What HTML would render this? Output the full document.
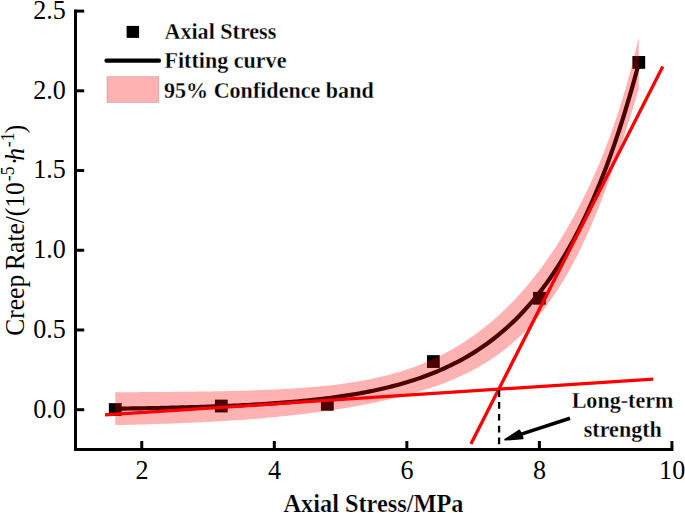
<!DOCTYPE html>
<html><head><meta charset="utf-8"><style>
html,body{margin:0;padding:0;background:#fff;}
svg{display:block;}
</style></head><body>
<svg width="685" height="513" viewBox="0 0 685 513" font-family="'Liberation Serif', serif">
<g fill="#000"><rect x="108.86" y="403.14" width="12.8" height="12.8"/><rect x="214.89" y="399.63" width="12.8" height="12.8"/><rect x="320.93" y="397.88" width="12.8" height="12.8"/><rect x="426.96" y="355.15" width="12.8" height="12.8"/><rect x="532.99" y="291.85" width="12.8" height="12.8"/><rect x="632.39" y="56.04" width="12.8" height="12.8"/></g>
<path d="M115.26,408.67 L118.55,408.63 L121.85,408.58 L125.14,408.54 L128.43,408.49 L131.73,408.44 L135.02,408.39 L138.31,408.34 L141.60,408.29 L144.90,408.23 L148.19,408.18 L151.48,408.12 L154.77,408.05 L158.07,407.99 L161.36,407.92 L164.65,407.85 L167.94,407.78 L171.24,407.71 L174.53,407.63 L177.82,407.55 L181.12,407.47 L184.41,407.38 L187.70,407.29 L190.99,407.20 L194.29,407.10 L197.58,407.01 L200.87,406.90 L204.16,406.80 L207.46,406.69 L210.75,406.57 L214.04,406.45 L217.33,406.33 L220.63,406.20 L223.92,406.07 L227.21,405.93 L230.51,405.79 L233.80,405.64 L237.09,405.49 L240.38,405.33 L243.68,405.17 L246.97,405.00 L250.26,404.82 L253.55,404.64 L256.85,404.45 L260.14,404.25 L263.43,404.05 L266.72,403.84 L270.02,403.62 L273.31,403.40 L276.60,403.16 L279.90,402.92 L283.19,402.66 L286.48,402.40 L289.77,402.13 L293.07,401.85 L296.36,401.56 L299.65,401.26 L302.94,400.94 L306.24,400.62 L309.53,400.28 L312.82,399.93 L316.11,399.57 L319.41,399.20 L322.70,398.81 L325.99,398.41 L329.28,397.99 L332.58,397.56 L335.87,397.11 L339.16,396.64 L342.46,396.16 L345.75,395.66 L349.04,395.15 L352.33,394.61 L355.63,394.05 L358.92,393.48 L362.21,392.88 L365.50,392.26 L368.80,391.62 L372.09,390.95 L375.38,390.26 L378.67,389.54 L381.97,388.80 L385.26,388.03 L388.55,387.24 L391.85,386.41 L395.14,385.55 L398.43,384.67 L401.72,383.75 L405.02,382.79 L408.31,381.80 L411.60,380.78 L414.89,379.72 L418.19,378.62 L421.48,377.48 L424.77,376.29 L428.06,375.07 L431.36,373.79 L434.65,372.48 L437.94,371.11 L441.24,369.69 L444.53,368.23 L447.82,366.70 L451.11,365.13 L454.41,363.49 L457.70,361.80 L460.99,360.04 L464.28,358.22 L467.58,356.33 L470.87,354.38 L474.16,352.35 L477.45,350.24 L480.75,348.06 L484.04,345.81 L487.33,343.46 L490.63,341.04 L493.92,338.52 L497.21,335.91 L500.50,333.21 L503.80,330.40 L507.09,327.50 L510.38,324.49 L513.67,321.37 L516.97,318.13 L520.26,314.77 L523.55,311.30 L526.84,307.69 L530.14,303.96 L533.43,300.08 L536.72,296.07 L540.02,291.91 L543.31,287.59 L546.60,283.12 L549.89,278.49 L553.19,273.68 L556.48,268.70 L559.77,263.54 L563.06,258.18 L566.36,252.64 L569.65,246.89 L572.94,240.93 L576.23,234.75 L579.53,228.34 L582.82,221.70 L586.11,214.82 L589.41,207.68 L592.70,200.29 L595.99,192.62 L599.28,184.68 L602.58,176.44 L605.87,167.90 L609.16,159.05 L612.45,149.87 L615.75,140.36 L619.04,130.50 L622.33,120.29 L625.62,109.69 L628.92,98.71 L632.21,87.33 L635.50,75.53 L638.79,63.30" fill="none" stroke="#000" stroke-width="4.2" stroke-linejoin="round"/>
<g stroke="#ff0000" stroke-width="3.3" fill="none">
<line x1="105" y1="414.9" x2="653.2" y2="379.1"/>
<line x1="470.9" y1="444.0" x2="662.8" y2="66.4"/>
</g>
<path d="M115.26,392.22 L118.55,392.21 L121.85,392.20 L125.14,392.19 L128.43,392.17 L131.73,392.16 L135.02,392.14 L138.31,392.13 L141.60,392.11 L144.90,392.09 L148.19,392.07 L151.48,392.05 L154.77,392.03 L158.07,392.01 L161.36,391.98 L164.65,391.96 L167.94,391.93 L171.24,391.90 L174.53,391.87 L177.82,391.84 L181.12,391.80 L184.41,391.77 L187.70,391.73 L190.99,391.69 L194.29,391.65 L197.58,391.60 L200.87,391.56 L204.16,391.51 L207.46,391.45 L210.75,391.40 L214.04,391.34 L217.33,391.28 L220.63,391.21 L223.92,391.15 L227.21,391.07 L230.51,391.00 L233.80,390.92 L237.09,390.83 L240.38,390.74 L243.68,390.65 L246.97,390.55 L250.26,390.45 L253.55,390.34 L256.85,390.22 L260.14,390.10 L263.43,389.97 L266.72,389.84 L270.02,389.70 L273.31,389.55 L276.60,389.39 L279.90,389.22 L283.19,389.05 L286.48,388.87 L289.77,388.67 L293.07,388.47 L296.36,388.26 L299.65,388.03 L302.94,387.80 L306.24,387.55 L309.53,387.28 L312.82,387.01 L316.11,386.72 L319.41,386.41 L322.70,386.09 L325.99,385.76 L329.28,385.40 L332.58,385.03 L335.87,384.64 L339.16,384.23 L342.46,383.80 L345.75,383.34 L349.04,382.86 L352.33,382.36 L355.63,381.84 L358.92,381.28 L362.21,380.70 L365.50,380.09 L368.80,379.46 L372.09,378.79 L375.38,378.08 L378.67,377.35 L381.97,376.58 L385.26,375.77 L388.55,374.93 L391.85,374.04 L395.14,373.12 L398.43,372.16 L401.72,371.15 L405.02,370.09 L408.31,369.00 L411.60,367.85 L414.89,366.66 L418.19,365.41 L421.48,364.12 L424.77,362.77 L428.06,361.36 L431.36,359.91 L434.65,358.39 L437.94,356.82 L441.24,355.18 L444.53,353.49 L447.82,351.73 L451.11,349.91 L454.41,348.02 L457.70,346.06 L460.99,344.03 L464.28,341.94 L467.58,339.77 L470.87,337.52 L474.16,335.20 L477.45,332.81 L480.75,330.33 L484.04,327.77 L487.33,325.12 L490.63,322.39 L493.92,319.58 L497.21,316.67 L500.50,313.66 L503.80,310.57 L507.09,307.37 L510.38,304.08 L513.67,300.68 L516.97,297.17 L520.26,293.56 L523.55,289.84 L526.84,286.00 L530.14,282.04 L533.43,277.96 L536.72,273.76 L540.02,269.43 L543.31,264.97 L546.60,260.36 L549.89,255.62 L553.19,250.74 L556.48,245.70 L559.77,240.51 L563.06,235.16 L566.36,229.64 L569.65,223.95 L572.94,218.08 L576.23,212.02 L579.53,205.76 L582.82,199.30 L586.11,192.62 L589.41,185.71 L592.70,178.55 L595.99,171.14 L599.28,163.44 L602.58,155.45 L605.87,147.12 L609.16,138.44 L612.45,129.36 L615.75,119.86 L619.04,109.87 L622.33,99.37 L625.62,88.30 L628.92,76.61 L632.21,64.26 L635.50,51.21 L638.79,37.43 L638.79,89.17 L635.50,99.85 L632.21,110.40 L628.92,120.81 L625.62,131.09 L622.33,141.20 L619.04,151.14 L615.75,160.87 L612.45,170.38 L609.16,179.66 L605.87,188.68 L602.58,197.43 L599.28,205.91 L595.99,214.11 L592.70,222.02 L589.41,229.66 L586.11,237.02 L582.82,244.11 L579.53,250.92 L576.23,257.48 L572.94,263.77 L569.65,269.83 L566.36,275.63 L563.06,281.21 L559.77,286.56 L556.48,291.70 L553.19,296.62 L549.89,301.35 L546.60,305.88 L543.31,310.22 L540.02,314.38 L536.72,318.38 L533.43,322.20 L530.14,325.87 L526.84,329.39 L523.55,332.76 L520.26,335.99 L516.97,339.08 L513.67,342.05 L510.38,344.90 L507.09,347.63 L503.80,350.24 L500.50,352.75 L497.21,355.16 L493.92,357.46 L490.63,359.68 L487.33,361.80 L484.04,363.84 L480.75,365.80 L477.45,367.68 L474.16,369.49 L470.87,371.23 L467.58,372.90 L464.28,374.50 L460.99,376.05 L457.70,377.54 L454.41,378.97 L451.11,380.35 L447.82,381.68 L444.53,382.97 L441.24,384.21 L437.94,385.40 L434.65,386.56 L431.36,387.68 L428.06,388.77 L424.77,389.82 L421.48,390.83 L418.19,391.82 L414.89,392.78 L411.60,393.71 L408.31,394.61 L405.02,395.49 L401.72,396.35 L398.43,397.18 L395.14,397.99 L391.85,398.78 L388.55,399.55 L385.26,400.30 L381.97,401.03 L378.67,401.74 L375.38,402.44 L372.09,403.11 L368.80,403.78 L365.50,404.42 L362.21,405.05 L358.92,405.67 L355.63,406.27 L352.33,406.85 L349.04,407.43 L345.75,407.98 L342.46,408.53 L339.16,409.06 L335.87,409.58 L332.58,410.08 L329.28,410.58 L325.99,411.06 L322.70,411.53 L319.41,411.98 L316.11,412.43 L312.82,412.86 L309.53,413.28 L306.24,413.69 L302.94,414.09 L299.65,414.48 L296.36,414.86 L293.07,415.23 L289.77,415.59 L286.48,415.94 L283.19,416.28 L279.90,416.61 L276.60,416.93 L273.31,417.24 L270.02,417.55 L266.72,417.84 L263.43,418.13 L260.14,418.41 L256.85,418.68 L253.55,418.94 L250.26,419.20 L246.97,419.45 L243.68,419.69 L240.38,419.92 L237.09,420.15 L233.80,420.37 L230.51,420.58 L227.21,420.79 L223.92,420.99 L220.63,421.19 L217.33,421.38 L214.04,421.56 L210.75,421.74 L207.46,421.92 L204.16,422.08 L200.87,422.25 L197.58,422.41 L194.29,422.56 L190.99,422.71 L187.70,422.85 L184.41,422.99 L181.12,423.13 L177.82,423.26 L174.53,423.39 L171.24,423.51 L167.94,423.63 L164.65,423.75 L161.36,423.86 L158.07,423.97 L154.77,424.08 L151.48,424.18 L148.19,424.28 L144.90,424.38 L141.60,424.47 L138.31,424.56 L135.02,424.65 L131.73,424.73 L128.43,424.81 L125.14,424.89 L121.85,424.97 L118.55,425.05 L115.26,425.12 Z" fill="#ff0000" fill-opacity="0.3" stroke="none"/>
<line x1="499.1" y1="390.3" x2="499.1" y2="444.5" stroke="#000" stroke-width="2.3" stroke-dasharray="6.7 5.1"/>
<g fill="none" stroke="#000" stroke-width="3" stroke-linecap="butt">
<path d="M75.5 9.6 V449.5 H673.4" stroke-linejoin="miter"/>
<line x1="76" y1="409.70" x2="84.2" y2="409.70"/><line x1="76" y1="329.98" x2="84.2" y2="329.98"/><line x1="76" y1="250.26" x2="84.2" y2="250.26"/><line x1="76" y1="170.54" x2="84.2" y2="170.54"/><line x1="76" y1="90.82" x2="84.2" y2="90.82"/><line x1="76" y1="11.10" x2="84.2" y2="11.10"/><line x1="141.77" y1="448.5" x2="141.77" y2="441"/><line x1="274.31" y1="448.5" x2="274.31" y2="441"/><line x1="406.85" y1="448.5" x2="406.85" y2="441"/><line x1="539.39" y1="448.5" x2="539.39" y2="441"/><line x1="671.93" y1="448.5" x2="671.93" y2="441"/>
</g>
<g font-size="26.6" fill="#000"><text transform="translate(65.8,417.50) scale(0.98,1)" text-anchor="end">0.0</text><text transform="translate(65.8,337.78) scale(0.98,1)" text-anchor="end">0.5</text><text transform="translate(65.8,258.06) scale(0.98,1)" text-anchor="end">1.0</text><text transform="translate(65.8,178.34) scale(0.98,1)" text-anchor="end">1.5</text><text transform="translate(65.8,98.62) scale(0.98,1)" text-anchor="end">2.0</text><text transform="translate(65.8,18.90) scale(0.98,1)" text-anchor="end">2.5</text><text transform="translate(141.97,479) scale(0.98,1)" text-anchor="middle">2</text><text transform="translate(274.51,479) scale(0.98,1)" text-anchor="middle">4</text><text transform="translate(407.05,479) scale(0.98,1)" text-anchor="middle">6</text><text transform="translate(539.59,479) scale(0.98,1)" text-anchor="middle">8</text><text transform="translate(672.13,479) scale(0.98,1)" text-anchor="middle">10</text></g>
<text transform="translate(283.5,511.6) scale(0.936,1)" font-size="26" font-weight="bold" stroke="#fff" stroke-width="0.25">Axial Stress/MPa</text>
<g transform="translate(24,335.7) rotate(-90)" font-size="27.5">
<text transform="scale(0.927,1)">Creep</text>
<text transform="translate(65.8,0) scale(0.927,1)">Rate/(10</text>
<text transform="translate(154.5,-10.5) scale(0.927,1)" font-size="19">-5</text>
<text transform="translate(170.5,0) scale(0.927,1)">·</text>
<text transform="translate(175,0) scale(0.927,1)" font-style="italic">h</text>
<text transform="translate(188.5,-10.5) scale(0.927,1)" font-size="19">-1</text>
<text transform="translate(202.5,0) scale(0.927,1)">)</text>
</g>
<!-- legend -->
<rect x="126.6" y="25.9" width="12.5" height="12" fill="#000"/>
<line x1="106.5" y1="60.7" x2="159" y2="60.7" stroke="#000" stroke-width="4.3" stroke-linecap="round"/>
<rect x="107" y="76.6" width="51.8" height="25.9" fill="#ffb2b2" stroke="rgba(110,110,110,0.3)" stroke-width="1"/>
<g font-size="24" font-weight="bold" fill="#000" stroke="#fff" stroke-width="0.25">
<text transform="translate(164.5,39.4) scale(0.92,1)">Axial Stress</text>
<text transform="translate(164.5,67.9) scale(0.92,1)">Fitting curve</text>
<text transform="translate(164,97.9) scale(0.92,1)">95% Confidence band</text>
</g>
<!-- annotation -->
<g font-size="24" font-weight="bold" fill="#000" text-anchor="middle" stroke="#fff" stroke-width="0.25">
<text transform="translate(622.5,408.2) scale(0.92,1)">Long-term</text>
<text transform="translate(622.8,436.5) scale(0.92,1)">strength</text>
</g>
<line x1="570" y1="418.2" x2="519" y2="434.9" stroke="#000" stroke-width="3.6"/>
<path d="M505.3,439.6 L519.3,430.6 L521.6,435 L522.6,438.2 Z" fill="#000" stroke="#000" stroke-width="2" stroke-linejoin="round"/>
</svg>
</body></html>
